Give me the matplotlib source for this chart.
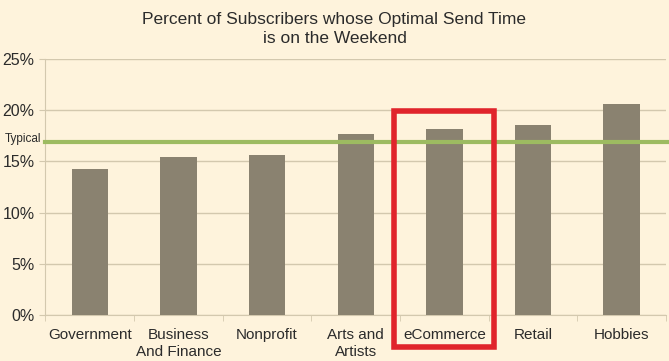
import matplotlib
matplotlib.use("Agg")
from matplotlib import pyplot as plt
from matplotlib.patches import Rectangle

plt.rcParams['font.family'] = ['Liberation Sans', 'DejaVu Sans']

categories = ['Government', 'Business\nAnd Finance', 'Nonprofit', 'Arts and\nArtists',
              'eCommerce', 'Retail', 'Hobbies']
percent = [14.3, 15.4, 15.6, 17.7, 18.2, 18.6, 20.6]
typical = 16.9
highlight = 'eCommerce'
y_ticks = [0, 5, 10, 15, 20, 25]

bg = '#FEF3DC'
bar_color = '#8A8270'
grid_color = '#D3C8AE'
text_color = '#2B2B2B'

fig = plt.figure(figsize=(6.69, 3.61), dpi=100, facecolor=bg)
ax = fig.add_axes([0.068, 0.1274, 0.9275, 0.7092])
ax.set_facecolor(bg)

x = list(range(len(categories)))
ax.bar(x, percent, width=0.41, color=bar_color, zorder=3)

ax.set_xlim(-0.5, len(categories) - 0.5)
ax.set_ylim(0, 25)
ax.set_yticks(y_ticks)
ax.set_yticklabels([f'{t}%' for t in y_ticks])
ax.yaxis.grid(True, color=grid_color, linewidth=1, zorder=0)

ax.set_xticks(x)
ax.set_xticklabels(categories, linespacing=1.3)
ax.set_xticks([i - 0.5 for i in range(len(categories) + 1)], minor=True)
ax.tick_params(axis='x', which='major', length=0, pad=9, labelsize=11, colors=text_color)
ax.tick_params(axis='x', which='minor', length=4, color=grid_color)
ax.tick_params(axis='y', length=4, color=grid_color, labelsize=11.5, labelcolor=text_color, pad=4)

for s in ['top', 'right']:
    ax.spines[s].set_visible(False)
for s in ['left', 'bottom']:
    ax.spines[s].set_color(grid_color)

# typical line runs past the axes to the figure edge
ax.axhline(typical, xmin=0, xmax=1.01, color='#9DBB61', linewidth=3, zorder=4, clip_on=False)
ax.text(-0.006, typical + 0.25, 'Typical', transform=ax.get_yaxis_transform(),
        ha='right', va='center', fontsize=8.5, color=text_color)

# red box around the highlighted category
hi = categories.index(highlight)
ax.add_patch(Rectangle((hi - 0.565, -3.15), 1.13, 23.05, fill=False,
                       edgecolor='#E0242B', linewidth=4, zorder=5, clip_on=False))

fig.text(0.5, 0.968, 'Percent of Subscribers whose Optimal Send Time\nis on the Weekend',
         ha='center', va='top', fontsize=12.5, color=text_color, linespacing=1.4)

fig.savefig('out.png', dpi=100, facecolor=bg)
